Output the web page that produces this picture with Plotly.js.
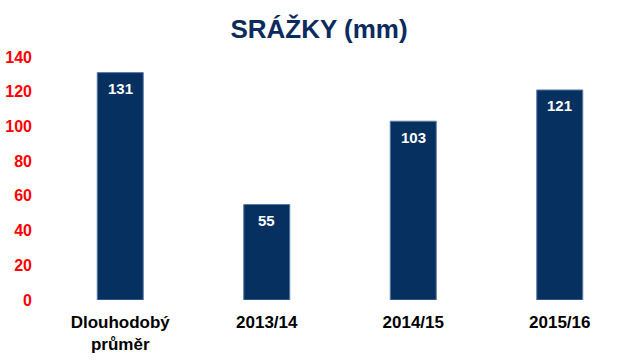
<!DOCTYPE html>
<html>
<head>
<meta charset="utf-8">
<script src="https://cdn.plot.ly/plotly-3.0.1.min.js"></script>
<style>html,body{margin:0;padding:0;background:#fff;}#chart{width:638px;height:361px;}</style>
</head>
<body>
<div id="chart"></div>
<script>
var categories = ["Dlouhodobý<br>průměr", "2013/14", "2014/15", "2015/16"];
var values = [131, 55, 103, 121];
var tickValues = [0, 20, 40, 60, 80, 100, 120, 140];
var titleText = "SRÁŽKY (mm)";

var fontFamily = "'Liberation Sans', Arial, sans-serif";

var trace = {
  type: "bar",
  x: categories,
  y: values,
  marker: {color: "#06305F", line: {color: "#5a7aa8", width: 1}},
  hoverinfo: "none"
};

var annotations = values.map(function (v, i) {
  return {
    x: categories[i],
    y: v,
    xref: "x",
    yref: "y",
    text: String(v),
    showarrow: false,
    xanchor: "center",
    yanchor: "middle",
    yshift: -16,
    font: {family: fontFamily, size: 15, color: "#ffffff", weight: "bold"}
  };
});

var layout = {
  width: 638,
  height: 361,
  margin: {l: 47, r: 5, t: 57, b: 61},
  paper_bgcolor: "#ffffff",
  plot_bgcolor: "#ffffff",
  bargap: 0.686,
  showlegend: false,
  annotations: annotations,
  title: {
    text: titleText,
    font: {family: fontFamily, size: 26, color: "#0B2A5E", weight: "bold"},
    x: 0.5,
    xanchor: "center",
    y: 0.92,
    yanchor: "middle"
  },
  xaxis: {
    type: "category",
    showline: false,
    showgrid: false,
    zeroline: false,
    ticks: "",
    ticklabelstandoff: 10,
    tickfont: {family: fontFamily, size: 17, color: "#000000", weight: "bold"},
    fixedrange: true
  },
  yaxis: {
    range: [0, 140],
    tickvals: tickValues,
    ticktext: tickValues.map(String),
    showline: false,
    showgrid: false,
    zeroline: false,
    ticks: "",
    ticklabelstandoff: 14,
    tickfont: {family: fontFamily, size: 16, color: "#FF0000", weight: "bold"},
    fixedrange: true
  }
};

Plotly.newPlot("chart", [trace], layout, {staticPlot: true, displayModeBar: false});
</script>
</body>
</html>
